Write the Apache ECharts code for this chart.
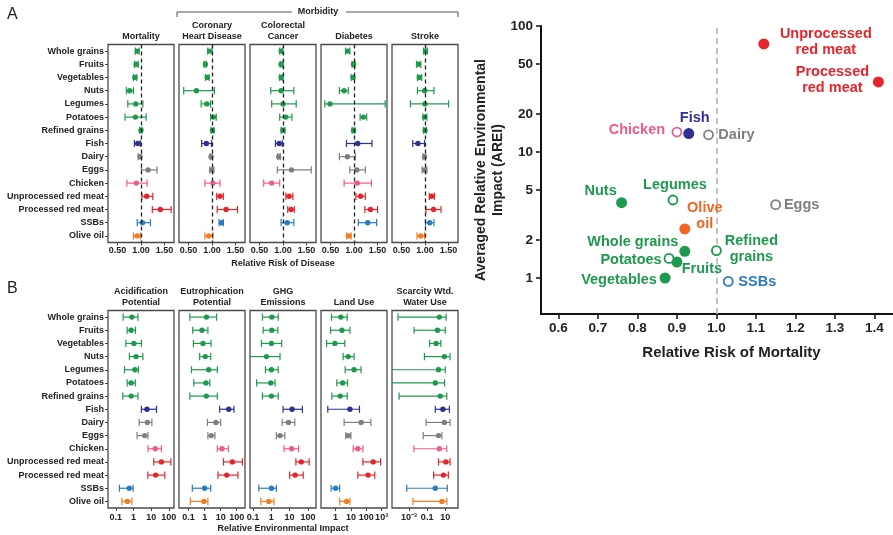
<!DOCTYPE html>
<html><head><meta charset="utf-8">
<script src="https://cdn.jsdelivr.net/npm/echarts@6/dist/echarts.min.js"></script>
<style>html,body{margin:0;padding:0;background:#fff}#c{width:893px;height:535px}</style>
</head><body><div id="c"></div>
<script>
// ---------------- data ----------------
const foods = ['Whole grains','Fruits','Vegetables','Nuts','Legumes','Potatoes','Refined grains','Fish','Dairy','Eggs','Chicken','Unprocessed red meat','Processed red meat','SSBs','Olive oil'];
const healthTitles = ['Mortality','Coronary\nHeart Disease','Colorectal\nCancer','Diabetes','Stroke'];
const envTitles = ['Acidification\nPotential','Eutrophication\nPotential','GHG\nEmissions','Land Use','Scarcity Wtd.\nWater Use'];
// [estimate, lower, upper] relative risk per food
const mortality = [[0.92,0.88,0.96],[0.90,0.86,0.94],[0.87,0.84,0.91],[0.76,0.69,0.84],[0.89,0.72,1.04],[0.88,0.66,1.11],[1.00,0.97,1.02],[0.93,0.86,0.985],[0.98,0.94,1.01],[1.15,1.01,1.34],[0.90,0.70,1.13],[1.12,1.02,1.25],[1.41,1.24,1.64],[1.03,0.92,1.20],[0.92,0.84,0.99]];
const chd = [[0.95,0.91,1.00],[0.86,0.83,0.88],[0.90,0.86,0.94],[0.67,0.40,1.05],[0.89,0.77,0.97],[1.03,0.97,1.09],[1.01,0.98,1.04],[0.88,0.78,0.99],[0.98,0.96,1.01],[0.99,0.95,1.04],[1.02,0.85,1.17],[1.17,1.10,1.24],[1.30,1.11,1.54],[1.20,1.15,1.24],[0.93,0.85,1.02]];
const colorectal = [[0.96,0.93,0.99],[0.96,0.94,0.99],[0.96,0.93,0.99],[0.96,0.74,1.23],[1.00,0.76,1.28],[1.06,0.93,1.19],[1.00,0.96,1.04],[0.92,0.84,0.985],[0.91,0.89,0.94],[1.18,0.88,1.60],[0.76,0.59,0.93],[1.13,1.06,1.21],[1.17,1.10,1.24],[1.09,0.96,1.23],null];
const diabetes = [[0.865,0.82,0.91],[0.99,0.96,1.02],[0.98,0.94,1.01],[0.79,0.69,0.88],[0.49,0.38,1.66],[1.20,1.13,1.27],[0.99,0.96,1.02],[1.08,0.84,1.38],[0.86,0.69,1.03],[1.06,0.91,1.24],[1.07,0.79,1.37],[1.14,1.04,1.24],[1.35,1.23,1.50],[1.29,1.09,1.48],[0.89,0.84,0.94]];
const stroke = [[1.01,0.97,1.05],[0.865,0.82,0.91],[0.88,0.84,0.93],[0.99,0.84,1.19],[1.00,0.69,1.50],[0.99,0.96,1.04],[1.00,0.97,1.03],[0.85,0.74,0.99],[0.99,0.96,1.01],[0.99,0.94,1.04],null,[1.14,1.09,1.20],[1.18,1.02,1.34],[1.10,1.01,1.19],[0.91,0.83,0.99]];
// [estimate, lower, upper] relative environmental impact per food
const acidification = [[0.81,0.26,1.8],[0.74,0.44,1.3],[1.05,0.37,2.8],[1.4,0.59,3.4],[1.2,0.31,1.9],[0.74,0.44,1.27],[0.74,0.25,1.8],[5.8,2.8,20],[6.1,2.1,11],[4.3,1.6,6.6],[17,6.6,38],[38,14,130],[18,6.5,59],[0.58,0.16,0.95],[0.45,0.22,0.81]];
const eutrophication = [[1.3,0.12,5.6],[0.68,0.18,1.6],[0.79,0.2,2.5],[1.1,0.49,2.4],[1.8,0.15,6.2],[1.2,0.21,2.1],[1.27,0.12,6.2],[32,8.7,68],[5.1,1.5,10],[2.6,1.6,4.4],[12,6.2,30],[54,15,229],[24,6.8,120],[1.0,0.17,2.4],[0.9,0.13,1.6]];
const ghg = [[1.07,0.33,2.4],[1.07,0.36,2.3],[1.02,0.29,3.7],[0.55,0.03,3.0],[1.02,0.48,2.4],[0.94,0.16,1.6],[1.02,0.33,2.4],[13.7,4.4,50],[8.7,3.9,19],[3.0,1.9,5.5],[13,5,31],[43,22,117],[20,10,55],[1.02,0.21,1.9],[0.73,0.27,1.4]];
const landUse = [[2.2,0.54,5.7],[2.6,0.47,8.6],[0.9,0.26,4],[6.6,3.1,16],[16,4.2,46],[2.9,1.2,6],[2.0,0.57,5.7],[8.6,0.31,36],[46,3.6,200],[6.6,4.6,10],[28,14,60],[280,60,860],[130,28,360],[1.0,0.51,1.85],[5.2,1.85,8.6]];
const waterUse = [[2.2,6e-5,12.6],[1.4,0.0036,10],[1.0,0.19,3.3],[8.1,0.05,34],[1.8,1e-6,10],[0.8,1e-6,8.5],[2.8,8e-5,15],[5.5,0.8,29],[8.1,0.078,34],[1.8,0.037,4.3],[2.2,0.0035,15],[11.7,1.8,34],[6.3,0.52,22],[0.8,0.00056,17],[4.3,0.0027,15]];
// averaged relative environmental impact (AREI) and significance of mortality association
const arei = [1.63,1.34,1.0,3.96,4.16,1.43,1.65,14,13.7,3.82,14.4,72,36,0.94,2.45];
const significant = [1,1,1,1,0,0,0,1,0,0,0,1,1,0,1];
const rrTicks = [0.5,1,1.5];
const envTicks = [[0.1,1,10,100],[0.1,1,10,100],[0.1,1,10,100],[1,10,100,1000],[0.001,0.1,10]];
const mortTicks = [0.6,0.7,0.8,0.9,1.0,1.1,1.2,1.3,1.4];
const areiTicks = [1,2,5,10,20,50,100];

// ---------------- styles ----------------
const FF = 'Liberation Sans, Arial, sans-serif';
const G='#1e9a4f', NAVY='#2e3192', GRAY='#7f7f7f', PINK='#f05a8e', RED='#e4252b', BLUE='#2b7bbf', ORANGE='#f47c20';
const foodColor = [G,G,G,G,G,G,G,NAVY,GRAY,GRAY,PINK,RED,RED,BLUE,ORANGE];
const scatterColor = foodColor.map((c,i)=> i===14 ? '#f26522' : c);
const scatterLabel = {
 'Whole grains':{t:'Whole grains',o:[-52,-9]},
 'Fruits':{t:'Fruits',o:[25,7]},
 'Vegetables':{t:'Vegetables',o:[-46,2]},
 'Nuts':{t:'Nuts',o:[-21,-12]},
 'Legumes':{t:'Legumes',o:[2,-15]},
 'Potatoes':{t:'Potatoes',o:[-38,2]},
 'Refined grains':{t:'Refined\ngrains',o:[35,-2]},
 'Fish':{t:'Fish',o:[6,-16]},
 'Dairy':{t:'Dairy',o:[28,0]},
 'Eggs':{t:'Eggs',o:[26,0]},
 'Chicken':{t:'Chicken',o:[-40,-2]},
 'Unprocessed red meat':{t:'Unprocessed\nred meat',o:[62,-2]},
 'Processed red meat':{t:'Processed\nred meat',o:[-46,-2]},
 'SSBs':{t:'SSBs',o:[29,1]},
 'Olive oil':{t:'Olive\noil',o:[20,-13]}
};
const panelLeft = [108,179,250,321,392], PW = 66;
const topRow = {top:44.5, height:198}, botRow = {top:310.5, height:197.5};
const envRange = [[0.0363,195],[0.0251,331],[0.0692,275],[0.112,2239],[1.32e-5,257]];

function powLabel(v){
  const e = Math.round(Math.log10(v));
  return {'-3':'10⁻³','-1':'0.1','0':'1','1':'10','2':'100','3':'10³'}[e] || String(v);
}
function errRender(params, api){
  const cs = params.coordSys;
  const idx = api.value(1);
  const color = foodColor[idx];
  const p = api.coord([api.value(0), idx]);
  let lo = api.coord([api.value(2), idx])[0];
  let hi = api.coord([api.value(3), idx])[0];
  const x0 = cs.x, x1 = cs.x + cs.width;
  const capLo = lo >= x0 - 0.5, capHi = hi <= x1 + 0.5;
  lo = Math.max(lo, x0); hi = Math.min(hi, x1);
  const y = p[1], c = 3.6, st = {stroke:color, lineWidth:1.2};
  const ch = [{type:'line', shape:{x1:lo,y1:y,x2:hi,y2:y}, style:st}];
  if (capLo) ch.push({type:'line', shape:{x1:lo,y1:y-c,x2:lo,y2:y+c}, style:st});
  if (capHi) ch.push({type:'line', shape:{x1:hi,y1:y-c,x2:hi,y2:y+c}, style:st});
  ch.push({type:'circle', shape:{cx:p[0],cy:y,r:2.7}, style:{fill:color}});
  return {type:'group', children:ch};
}
const lblStyle = {fontSize:9, fontWeight:'bold', color:'#222', fontFamily:FF};
const grids = [], xAxes = [], yAxes = [], series = [], graphics = [];
const healthPanels = [mortality, chd, colorectal, diabetes, stroke];
const envPanels = [acidification, eutrophication, ghg, landUse, waterUse];

function addPanel(i, row, panel, isEnv){
  const gi = grids.length;
  grids.push({left:panelLeft[i], top:row.top, width:PW, height:row.height, show:true, borderColor:'#4a4a4a', borderWidth:1.3});
  const ticks = isEnv ? envTicks[i] : rrTicks;
  const xa = {gridIndex:gi, type:isEnv?'log':'value', splitLine:{show:false}, axisLine:{show:false},
    axisTick:{show:true, length:3, lineStyle:{color:'#444'}, customValues:ticks},
    axisLabel:Object.assign({customValues:ticks, margin:isEnv?5:4, formatter:isEnv?powLabel:(v=>(+v).toFixed(2))}, lblStyle)};
  if (isEnv){ xa.logBase=10; xa.min=envRange[i][0]; xa.max=envRange[i][1]; }
  else { xa.min=0.3; xa.max=1.7; }
  if (i===2){ xa.name = isEnv?'Relative Environmental Impact':'Relative Risk of Disease'; xa.nameLocation='middle'; xa.nameGap=isEnv?16:17; xa.nameTextStyle=lblStyle; }
  xAxes.push(xa);
  yAxes.push({gridIndex:gi, type:'category', data:foods, inverse:true, axisLine:{show:false}, splitLine:{show:false},
    axisTick:{show:i===0, length:3, alignWithLabel:true, lineStyle:{color:'#444'}},
    axisLabel:Object.assign({show:i===0, margin:4}, lblStyle)});
  const rows = [];
  panel.forEach((d,k)=>{ if(d) rows.push([d[0],k,d[1],d[2]]); });
  const s = {type:'custom', xAxisIndex:gi, yAxisIndex:gi, data:rows, encode:{x:[0,2,3], y:1}, renderItem:errRender, silent:true, animation:false, z:3};
  if (!isEnv) s.markLine = {silent:true, symbol:'none', label:{show:false}, animation:false, lineStyle:{type:[4,3], color:'#222', width:1.3}, data:[{xAxis:1}]};
  series.push(s);
  graphics.push({type:'text', x:panelLeft[i]+PW/2, y:isEnv?308.5:42, style:{text:(isEnv?envTitles:healthTitles)[i], textAlign:'center', textVerticalAlign:'bottom', fontSize:9, fontWeight:'bold', fontFamily:FF, fill:'#222', lineHeight:11}});
}
healthPanels.forEach((p,i)=>addPanel(i, topRow, p, false));
envPanels.forEach((p,i)=>addPanel(i, botRow, p, true));

// scatter
const sg = grids.length;
grids.push({left:541, top:26, width:352, height:288, show:false});
const axLine = {show:true, onZero:false, lineStyle:{color:'#111', width:2}};
const bigLbl = {fontSize:13.5, fontWeight:'bold', color:'#222', fontFamily:FF};
xAxes.push({gridIndex:sg, type:'value', min:0.556, max:1.447, splitLine:{show:false}, axisLine:axLine,
  axisTick:{show:true, length:5, lineStyle:{color:'#111', width:1.5}, customValues:mortTicks},
  axisLabel:Object.assign({customValues:mortTicks, margin:7, formatter:v=>(+v).toFixed(1)}, bigLbl),
  name:'Relative Risk of Mortality', nameLocation:'middle', nameGap:31,
  nameTextStyle:{fontSize:15, fontWeight:'bold', color:'#222', fontFamily:FF, padding:[0,0,0,29]}});
yAxes.push({gridIndex:sg, type:'log', logBase:10, min:0.518, max:100, splitLine:{show:false}, axisLine:axLine,
  axisTick:{show:true, length:5, lineStyle:{color:'#111', width:1.5}, customValues:areiTicks},
  axisLabel:Object.assign({customValues:areiTicks, margin:8, formatter:v=>String(Math.round(v))}, bigLbl),
  name:'Averaged Relative Environmental\nImpact (AREI)', nameLocation:'middle', nameGap:32, nameRotate:90,
  nameTextStyle:{fontSize:14, fontWeight:'bold', color:'#222', fontFamily:FF, lineHeight:17}});
series.push({type:'scatter', xAxisIndex:sg, yAxisIndex:sg, animation:false, z:5,
  itemStyle:{opacity:1},
  data: foods.map((f,i)=>{
    const c = scatterColor[i], L = scatterLabel[f];
    return {name:f, value:[mortality[i][0], arei[i]],
      symbolSize: significant[i] ? 11 : 9,
      itemStyle: significant[i] ? {color:c, opacity:1} : {color:'#fff', borderColor:c, borderWidth:1.8, opacity:1},
      label:{show:true, position:'inside', formatter:L.t, offset:L.o, color:c, opacity:1, fontSize:14.5, fontWeight:'bold', fontFamily:FF, lineHeight:16, align:'center', verticalAlign:'middle', textBorderWidth:0}};
  }),
  markLine:{silent:true, symbol:'none', label:{show:false}, animation:false, z:1, lineStyle:{type:[6,4], color:'#bdbdbd', width:1.8}, data:[{xAxis:1}]}
});

// decorations
const txt = (t,x,y,fs,fw)=>({type:'text', x, y, style:{text:t, fontSize:fs, fontWeight:fw||'normal', fontFamily:FF, fill:'#222', textAlign:'left', textVerticalAlign:'middle'}});
graphics.push(txt('A',7,15,16), txt('B',7,289,16));
const br = {stroke:'#555', lineWidth:1};
graphics.push({type:'line', shape:{x1:177,y1:12,x2:292,y2:12}, style:br},
  {type:'line', shape:{x1:346,y1:12,x2:458,y2:12}, style:br},
  {type:'line', shape:{x1:177,y1:12,x2:177,y2:17}, style:br},
  {type:'line', shape:{x1:458,y1:12,x2:458,y2:17}, style:br},
  {type:'text', x:318, y:12, style:{text:'Morbidity', fontSize:9, fontWeight:'bold', fontFamily:FF, fill:'#222', textAlign:'center', textVerticalAlign:'middle'}});

const chart = echarts.init(document.getElementById('c'), null, {renderer:'canvas'});
chart.setOption({backgroundColor:'#fff', animation:false, grid:grids, xAxis:xAxes, yAxis:yAxes, series, graphic:graphics});
</script></body></html>
